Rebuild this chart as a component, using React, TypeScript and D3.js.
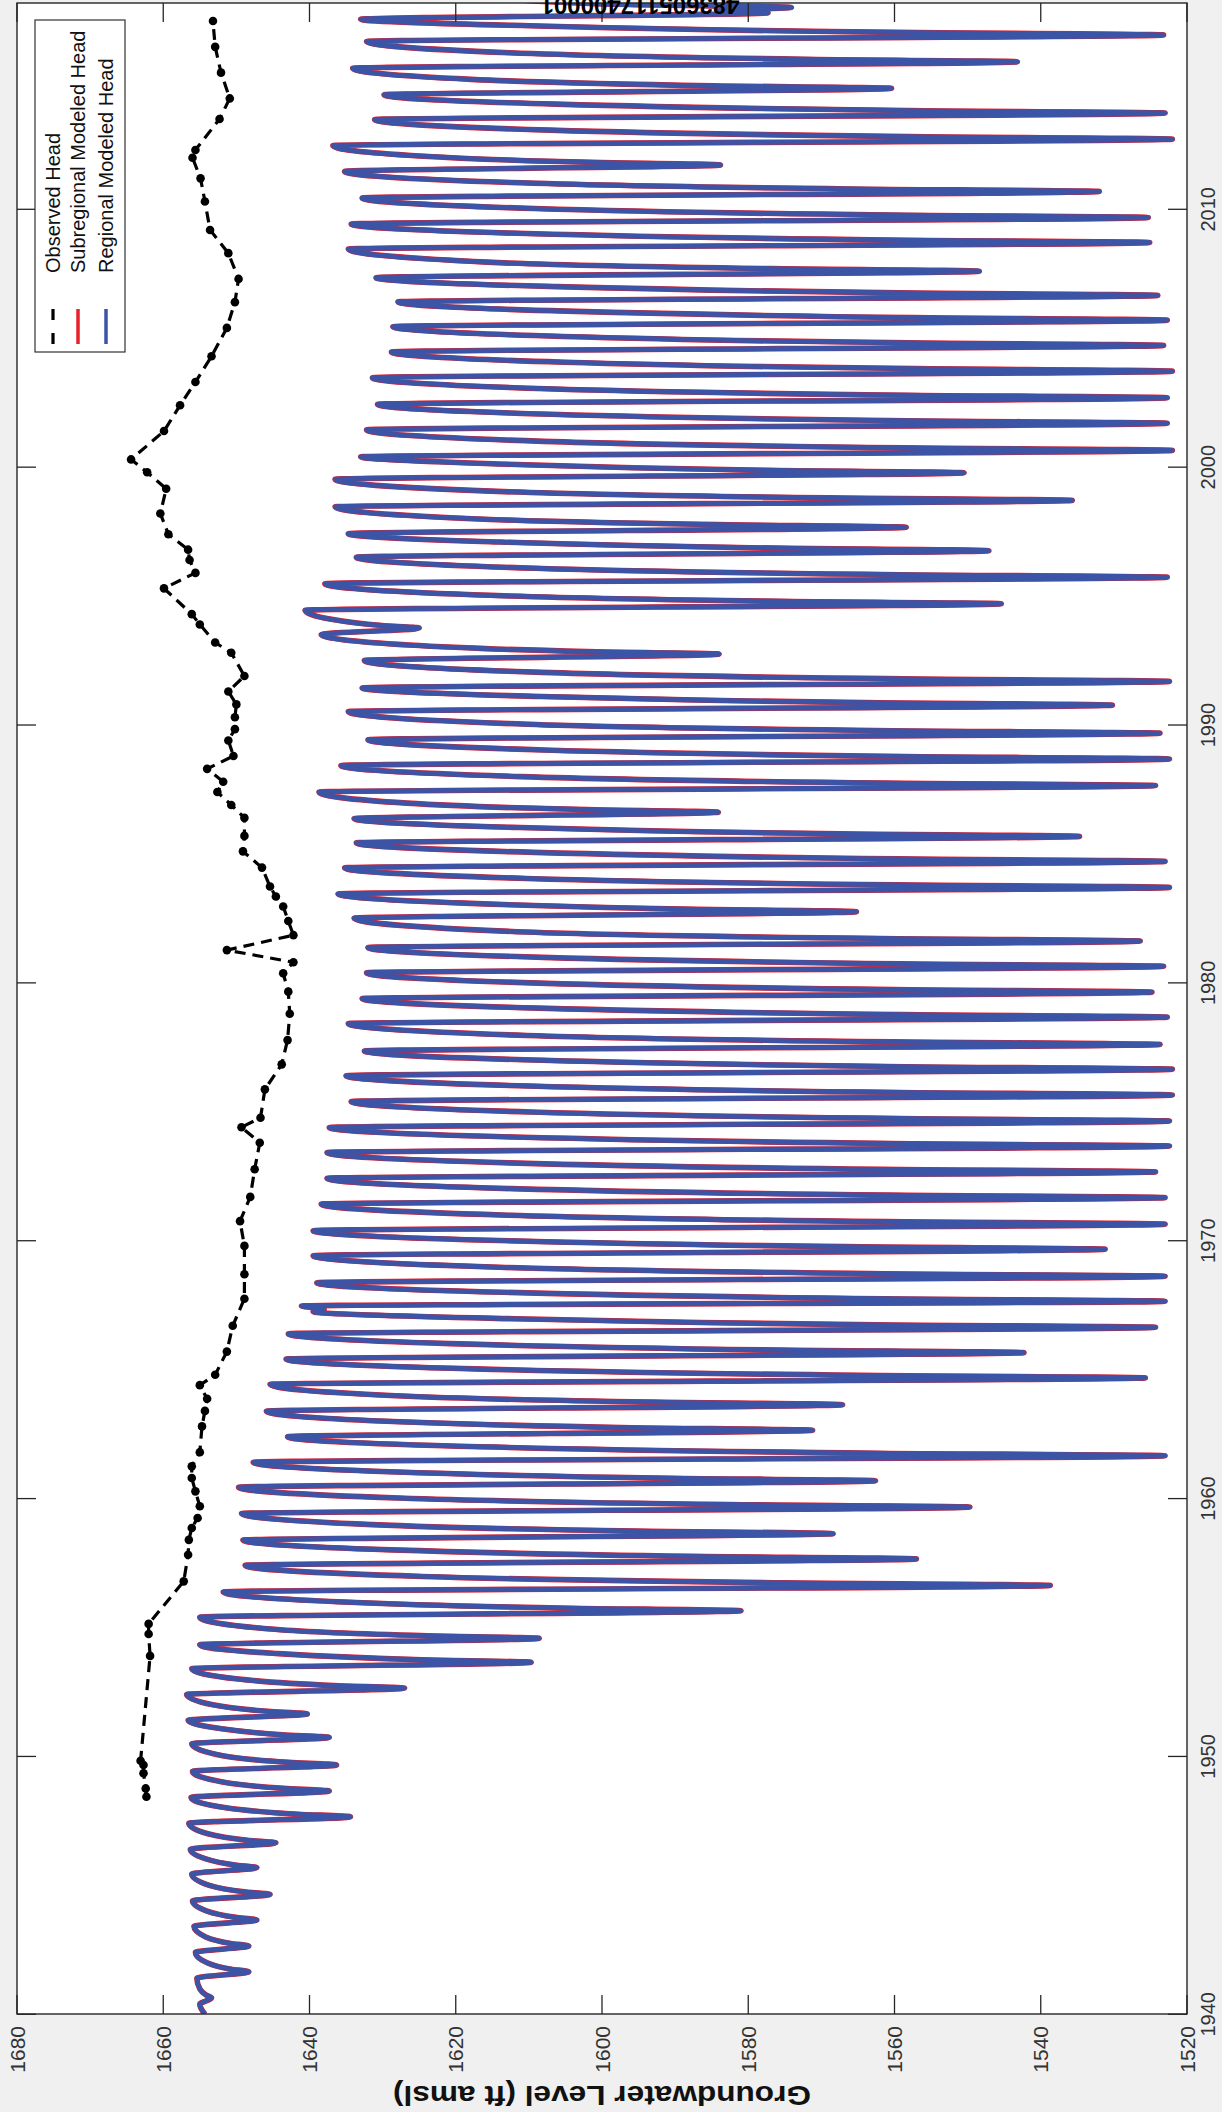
import React from "react";
import * as d3 from "d3";

// ---------- DATA ----------
const headTicks = [1680, 1660, 1640, 1620, 1600, 1580, 1560, 1540, 1520];
const yearTicks = [1940, 1950, 1960, 1970, 1980, 1990, 2000, 2010];
const titleText = "483605117400001";
const yLabel = "Groundwater Level (ft amsl)";
const legendLabels = ["Observed Head", "Subregional Modeled Head", "Regional Modeled Head"];

// Observed head: [decimal year, head ft amsl]
const observedHead: [number, number][] = [
  [1948.44, 1662.3], [1948.76, 1662.4], [1949.35, 1662.7], [1949.67, 1662.7], [1949.83, 1663.1],
  [1953.9, 1661.8], [1954.75, 1662.0], [1955.14, 1662.0], [1956.79, 1657.2], [1957.82, 1656.6],
  [1958.4, 1656.5], [1958.86, 1656.1], [1959.25, 1655.3], [1959.7, 1655.0], [1960.28, 1655.6],
  [1960.8, 1656.1], [1961.25, 1656.1], [1961.8, 1655.0], [1962.8, 1654.7], [1963.4, 1654.3],
  [1963.87, 1654.0], [1964.4, 1655.0], [1964.8, 1652.9], [1965.7, 1651.3], [1966.7, 1650.5],
  [1967.75, 1648.9], [1968.7, 1648.9], [1969.8, 1648.9], [1970.76, 1649.5], [1971.7, 1648.1],
  [1972.77, 1647.5], [1973.8, 1646.8], [1974.4, 1649.3], [1974.77, 1646.7], [1975.87, 1646.1],
  [1976.84, 1643.8], [1977.78, 1643.0], [1978.8, 1642.7], [1979.66, 1642.9], [1980.37, 1643.6],
  [1980.8, 1642.2], [1981.27, 1651.3], [1981.85, 1642.2], [1982.4, 1642.9], [1982.96, 1643.6],
  [1983.35, 1644.6], [1983.74, 1645.4], [1984.47, 1646.5], [1985.1, 1649.1], [1985.7, 1648.9],
  [1986.4, 1648.9], [1986.9, 1650.7], [1987.4, 1652.6], [1987.8, 1651.8], [1988.3, 1654.0],
  [1988.8, 1650.4], [1989.4, 1651.1], [1989.84, 1650.2], [1990.3, 1650.2], [1990.8, 1650.0],
  [1991.3, 1651.1], [1991.9, 1648.9], [1992.8, 1650.7], [1993.2, 1652.9], [1993.9, 1655.0],
  [1994.3, 1656.1], [1995.3, 1659.9], [1995.9, 1655.6], [1996.4, 1656.4], [1996.8, 1656.6],
  [1997.4, 1659.3], [1998.2, 1660.4], [1999.16, 1659.6], [1999.8, 1662.2], [2000.3, 1664.4],
  [2001.4, 1659.9], [2002.4, 1657.7], [2003.3, 1655.6], [2004.3, 1653.4], [2005.4, 1651.3],
  [2006.4, 1650.2], [2007.3, 1649.7], [2008.3, 1651.1], [2009.2, 1653.6], [2010.3, 1654.3],
  [2011.2, 1654.9], [2012.0, 1656.0], [2012.3, 1655.6], [2013.5, 1652.3], [2014.3, 1650.9],
  [2015.3, 1652.1], [2016.3, 1652.9], [2017.3, 1653.2],
];

// Regional modeled head vertices: [decimal year, head ft amsl]
const regionalModeledHead: [number, number][] = [
  [1940.00, 1654.3], [1940.39, 1655.0], [1940.64, 1653.4], [1940.74, 1654.1], [1940.99, 1655.0],
  [1941.40, 1655.4], [1941.65, 1648.3], [1941.75, 1650.7], [1942.00, 1654.0],
  [1942.40, 1655.6], [1942.65, 1648.3], [1942.75, 1650.8], [1943.00, 1654.2],
  [1943.41, 1655.8], [1943.66, 1647.2], [1943.76, 1650.1], [1944.01, 1654.1],
  [1944.40, 1656.0], [1944.65, 1645.4], [1944.75, 1648.9], [1945.00, 1653.7],
  [1945.44, 1656.1], [1945.69, 1647.2], [1945.79, 1650.2], [1946.04, 1654.3],
  [1946.40, 1656.3], [1946.65, 1644.6], [1946.75, 1648.5], [1947.00, 1653.9],
  [1947.41, 1656.5], [1947.66, 1634.4], [1947.76, 1641.6], [1948.01, 1651.4],
  [1948.41, 1656.2], [1948.66, 1637.3], [1948.76, 1643.5], [1949.01, 1651.9],
  [1949.42, 1656.0], [1949.67, 1636.3], [1949.77, 1642.8], [1950.02, 1651.7],
  [1950.49, 1656.1], [1950.74, 1637.3], [1950.84, 1643.7], [1951.09, 1652.4],
  [1951.40, 1656.6], [1951.65, 1640.3], [1951.75, 1645.7], [1952.00, 1653.2],
  [1952.40, 1656.8], [1952.65, 1627.0], [1952.75, 1636.6], [1953.00, 1649.7],
  [1953.40, 1656.1], [1953.65, 1609.7], [1953.75, 1624.6], [1954.00, 1645.0],
  [1954.33, 1655.0], [1954.58, 1608.6], [1954.68, 1623.9], [1954.93, 1644.8],
  [1955.40, 1655.0], [1955.65, 1581.0], [1955.75, 1604.4], [1956.00, 1636.2],
  [1956.38, 1651.8], [1956.63, 1538.7], [1956.73, 1575.0], [1956.98, 1624.6],
  [1957.41, 1648.8], [1957.66, 1557.0], [1957.76, 1587.4], [1958.01, 1628.8],
  [1958.39, 1649.1], [1958.64, 1568.4], [1958.74, 1595.1], [1958.99, 1631.5],
  [1959.42, 1649.3], [1959.67, 1549.7], [1959.77, 1582.7], [1960.02, 1627.7],
  [1960.44, 1649.7], [1960.69, 1562.6], [1960.79, 1590.7], [1961.04, 1629.0],
  [1961.41, 1647.7], [1961.66, 1523.0], [1961.76, 1562.6], [1962.01, 1616.6],
  [1962.40, 1643.0], [1962.65, 1571.2], [1962.75, 1595.9], [1963.00, 1629.5],
  [1963.39, 1645.9], [1963.64, 1567.1], [1963.74, 1592.9], [1963.99, 1628.2],
  [1964.43, 1645.4], [1964.68, 1525.7], [1964.78, 1564.5], [1965.03, 1617.4],
  [1965.41, 1643.2], [1965.66, 1542.3], [1965.76, 1575.5], [1966.01, 1620.8],
  [1966.39, 1642.9], [1966.64, 1524.3], [1966.74, 1562.5], [1966.99, 1614.5],
  [1967.25, 1639.5], [1967.34, 1638.0], [1967.47, 1641.1], [1967.65, 1523.0], [1967.75, 1561.3], [1968.00, 1613.5],
  [1968.37, 1639.0], [1968.62, 1523.0], [1968.72, 1561.4], [1968.97, 1613.9],
  [1969.42, 1639.5], [1969.67, 1531.2], [1969.77, 1566.9], [1970.02, 1615.7],
  [1970.39, 1639.5], [1970.64, 1523.0], [1970.74, 1561.1], [1970.99, 1613.0],
  [1971.42, 1638.4], [1971.67, 1523.0], [1971.77, 1560.8], [1972.02, 1612.4],
  [1972.42, 1637.6], [1972.67, 1524.3], [1972.77, 1561.7], [1973.02, 1612.7],
  [1973.42, 1637.6], [1973.67, 1522.4], [1973.77, 1560.3], [1974.02, 1612.0],
  [1974.39, 1637.3], [1974.64, 1522.4], [1974.74, 1559.3], [1974.99, 1609.7],
  [1975.40, 1634.3], [1975.65, 1522.0], [1975.75, 1559.3], [1976.00, 1610.1],
  [1976.40, 1635.0], [1976.65, 1522.0], [1976.75, 1558.5], [1977.00, 1608.2],
  [1977.36, 1632.5], [1977.61, 1523.7], [1977.71, 1560.3], [1977.96, 1610.3],
  [1978.42, 1634.7], [1978.67, 1522.7], [1978.77, 1559.0], [1979.02, 1608.6],
  [1979.39, 1632.8], [1979.64, 1524.8], [1979.74, 1560.2], [1979.99, 1608.6],
  [1980.39, 1632.2], [1980.64, 1523.2], [1980.74, 1559.1], [1980.99, 1608.1],
  [1981.37, 1632.0], [1981.62, 1526.4], [1981.72, 1561.9], [1981.97, 1610.3],
  [1982.51, 1633.9], [1982.76, 1565.2], [1982.86, 1588.6], [1983.11, 1620.5],
  [1983.45, 1636.1], [1983.70, 1522.4], [1983.80, 1559.6], [1984.05, 1610.4],
  [1984.46, 1635.2], [1984.71, 1523.0], [1984.81, 1559.5], [1985.06, 1609.3],
  [1985.43, 1633.6], [1985.68, 1534.7], [1985.78, 1567.4], [1986.03, 1612.1],
  [1986.37, 1633.9], [1986.62, 1584.1], [1986.72, 1602.1], [1986.97, 1626.7],
  [1987.40, 1638.7], [1987.65, 1524.3], [1987.75, 1561.1], [1988.00, 1611.2],
  [1988.43, 1635.7], [1988.68, 1522.4], [1988.78, 1558.6], [1989.03, 1607.9],
  [1989.43, 1632.0], [1989.68, 1523.7], [1989.78, 1560.3], [1990.03, 1610.3],
  [1990.52, 1634.7], [1990.77, 1530.2], [1990.87, 1564.1], [1991.12, 1610.2],
  [1991.44, 1632.8], [1991.69, 1522.4], [1991.79, 1558.7], [1992.04, 1608.3],
  [1992.50, 1632.5], [1992.75, 1584.0], [1992.85, 1602.0], [1993.10, 1626.4],
  [1993.51, 1638.4], [1993.76, 1625.0], [1993.86, 1630.1], [1994.11, 1637.2],
  [1994.45, 1640.6], [1994.70, 1545.4], [1994.80, 1575.9], [1995.05, 1617.6],
  [1995.48, 1637.9], [1995.73, 1522.7], [1995.83, 1559.3], [1996.08, 1609.2],
  [1996.51, 1633.6], [1996.76, 1547.1], [1996.86, 1576.0], [1997.11, 1615.4],
  [1997.42, 1634.7], [1997.67, 1558.4], [1997.77, 1584.2], [1998.02, 1619.3],
  [1998.46, 1636.5], [1998.71, 1535.7], [1998.81, 1569.0], [1999.06, 1614.3],
  [1999.53, 1636.5], [1999.78, 1550.5], [1999.88, 1577.7], [2000.13, 1614.9],
  [2000.40, 1633.0], [2000.65, 1522.0], [2000.75, 1558.4], [2001.00, 1608.0],
  [2001.45, 1632.2], [2001.70, 1522.7], [2001.80, 1558.3], [2002.05, 1606.9],
  [2002.44, 1630.7], [2002.69, 1522.7], [2002.79, 1558.6], [2003.04, 1607.5],
  [2003.47, 1631.4], [2003.72, 1522.0], [2003.82, 1557.2], [2004.07, 1605.3],
  [2004.47, 1628.8], [2004.72, 1523.2], [2004.82, 1558.0], [2005.07, 1605.4],
  [2005.45, 1628.6], [2005.70, 1522.7], [2005.80, 1557.4], [2006.05, 1604.8],
  [2006.41, 1627.9], [2006.66, 1524.0], [2006.76, 1559.3], [2007.01, 1607.4],
  [2007.35, 1630.9], [2007.60, 1548.4], [2007.70, 1576.9], [2007.95, 1615.7],
  [2008.46, 1634.7], [2008.71, 1525.1], [2008.81, 1561.1], [2009.06, 1610.3],
  [2009.43, 1634.3], [2009.68, 1525.3], [2009.78, 1560.8], [2010.03, 1609.2],
  [2010.44, 1632.8], [2010.69, 1532.0], [2010.79, 1566.1], [2011.04, 1612.5],
  [2011.47, 1635.2], [2011.72, 1583.8], [2011.82, 1601.3], [2012.07, 1625.1],
  [2012.47, 1636.8], [2012.72, 1522.0], [2012.82, 1558.0], [2013.07, 1607.1],
  [2013.48, 1631.1], [2013.73, 1523.0], [2013.83, 1558.2], [2014.08, 1606.3],
  [2014.44, 1629.8], [2014.69, 1560.4], [2014.79, 1584.7], [2015.04, 1617.9],
  [2015.47, 1634.1], [2015.72, 1543.2], [2015.82, 1572.6], [2016.07, 1612.6],
  [2016.51, 1632.2], [2016.76, 1523.2], [2016.86, 1559.4], [2017.11, 1608.8],
  [2017.37, 1633.0], [2017.62, 1577.3], [2017.70, 1584.0], [2017.83, 1574.1],
  [2017.95, 1598.0], [2018.20, 1615.0], [2018.60, 1626.0],
];
// Subregional curve is indistinguishable from the regional one at this scale
const subregionalModeledHead: [number, number][] = regionalModeledHead;

// ---------- CHART ----------
const FONT = "'Liberation Sans', Arial, Helvetica, sans-serif";

export default function App() {
  const W = 1222;
  const H = 2112;
  const left = 17;
  const right = 1187;
  const top = 3;
  const bottom = 2014;
  const tickLen = 19;

  const headScale = d3.scaleLinear().domain([1680, 1520]).range([left, right]);
  const yearScale = d3.scaleLinear().domain([1940, 2010]).range([2014.3, 209.3]);

  const curveLine = d3
    .line<[number, number]>()
    .x((d) => headScale(d[1]))
    .y((d) => yearScale(d[0]))
    .curve(d3.curveMonotoneY);
  const straightLine = d3
    .line<[number, number]>()
    .x((d) => headScale(d[1]))
    .y((d) => yearScale(d[0]));

  const byPixelY = (arr: [number, number][]) => [...arr].sort((a, b) => b[0] - a[0]);
  const regionalPath = curveLine(byPixelY(regionalModeledHead)) || "";
  const subregionalPath = curveLine(byPixelY(subregionalModeledHead)) || "";
  const observedPath = straightLine(observedHead) || "";

  const blue = "#3b54a5";
  const red = "#e8202a";
  const axisColor = "#262626";

  const legendX = [53, 78, 106];
  const legendColors = ["#000", red, blue];

  return (
    <svg
      width={W}
      height={H}
      style={{ position: "absolute", left: 0, top: 0, display: "block" }}
      fontFamily={FONT}
    >
      <defs>
        <clipPath id="plotClip">
          <rect x={left} y={top} width={right - left} height={bottom - top} />
        </clipPath>
      </defs>
      <rect x={0} y={0} width={W} height={H} fill="#f0f0f0" />
      <rect x={left} y={top} width={right - left} height={bottom - top} fill="#ffffff" />

      {/* data */}
      <g clipPath="url(#plotClip)">
        <path d={subregionalPath} fill="none" stroke={red} strokeWidth={5.6} strokeLinejoin="round" />
        <path d={regionalPath} fill="none" stroke={blue} strokeWidth={4.8} strokeLinejoin="round" />
        <path
          d={observedPath}
          fill="none"
          stroke="#000"
          strokeWidth={3.2}
          strokeDasharray="11 7"
        />
        {observedHead.map((d, i) => (
          <circle key={i} cx={headScale(d[1])} cy={yearScale(d[0])} r={4.3} fill="#000" />
        ))}
      </g>

      {/* ticks */}
      {yearTicks.map((y) => {
        const py = yearScale(y);
        return (
          <g key={"yt" + y}>
            <line x1={left} x2={left + tickLen} y1={py} y2={py} stroke={axisColor} strokeWidth={1.3} />
            <line x1={right} x2={right - tickLen} y1={py} y2={py} stroke={axisColor} strokeWidth={1.3} />
            <text
              transform={`translate(1208,${py}) rotate(-90)`}
              textAnchor="middle"
              dominantBaseline="central"
              fontSize={20}
              fill="#333"
            >
              {y}
            </text>
          </g>
        );
      })}
      {headTicks.map((v) => {
        const px = headScale(v);
        return (
          <g key={"ht" + v}>
            <line x1={px} x2={px} y1={bottom} y2={bottom - tickLen} stroke={axisColor} strokeWidth={1.3} />
            <line x1={px} x2={px} y1={top} y2={top + tickLen} stroke={axisColor} strokeWidth={1.3} />
            <text
              transform={`translate(${px},2026) rotate(-90)`}
              textAnchor="end"
              dominantBaseline="central"
              fontSize={21}
              fill="#333"
            >
              {v}
            </text>
          </g>
        );
      })}

      {/* frame */}
      <rect
        x={left}
        y={top}
        width={right - left}
        height={bottom - top}
        fill="none"
        stroke={axisColor}
        strokeWidth={1.4}
      />

      {/* title (upside down, mostly beyond the top edge as in the source) */}
      <text
        transform={`translate(640,-3) rotate(180)`}
        textAnchor="middle"
        fontSize={24}
        fontWeight="bold"
        fill="#000"
      >
        {titleText}
      </text>

      {/* axis label (upside down) */}
      <text
        transform={`translate(602,2095) rotate(180)`}
        textAnchor="middle"
        dominantBaseline="central"
        fontSize={28}
        fontWeight="bold"
        fill="#111"
        textLength={418}
        lengthAdjust="spacingAndGlyphs"
      >
        {yLabel}
      </text>

      {/* legend */}
      <g>
        <rect x={35} y={20} width={90} height={332} fill="#fff" stroke="#333" strokeWidth={1.2} />
        {legendLabels.map((lab, i) => (
          <g key={lab}>
            <line
              x1={legendX[i]}
              x2={legendX[i]}
              y1={309}
              y2={344}
              stroke={legendColors[i]}
              strokeWidth={i === 0 ? 3.2 : 3.5}
              strokeDasharray={i === 0 ? "11 13" : undefined}
            />
            <text
              transform={`translate(${legendX[i]},273) rotate(-90)`}
              textAnchor="start"
              dominantBaseline="central"
              fontSize={20}
              fill="#111"
            >
              {lab}
            </text>
          </g>
        ))}
      </g>
    </svg>
  );
}
